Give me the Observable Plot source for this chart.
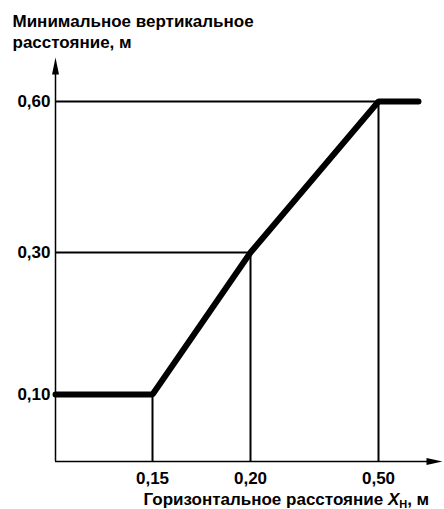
<!DOCTYPE html>
<html><head><meta charset="utf-8">
<script src="https://cdn.jsdelivr.net/npm/d3@7"></script>
<script src="https://cdn.jsdelivr.net/npm/@observablehq/plot@0.6"></script>
<style>body{margin:0;background:#fff} svg{display:block}</style>
</head><body><div id="chart"></div>
<script>
// Data
const xTicks = [0.15, 0.20, 0.50];
const yTicks = [0.10, 0.30, 0.60];
const curveX = [0, 0.15, 0.20, 0.50, 0.60];
const curveY = [0.10, 0.10, 0.30, 0.60, 0.60];
const yTitle = ["Минимальное вертикальное", "расстояние, м"];
const xTitleMain = "Горизонтальное расстояние ";
const xTitleVar = "X";
const xTitleSub = "Н";
const xTitleUnit = ", м";
const xMax = 0.66, yMax = 0.70;

const curve = curveX.map((x, i) => ({x, y: curveY[i]}));
const guides = xTicks.map((x, i) => ({x, y: yTicks[i]}));
const fmt = d => d.toFixed(2).replace(".", ",");
const font = "Liberation Sans, Arial, sans-serif";

const arrowUp = {draw(ctx) { ctx.moveTo(0, 0); ctx.lineTo(3.5, 17); ctx.lineTo(-3.5, 17); ctx.closePath(); }};
const arrowRight = {draw(ctx) { ctx.moveTo(0, 0); ctx.lineTo(-16, -3.5); ctx.lineTo(-16, 3.5); ctx.closePath(); }};

const chart = Plot.plot({
  width: 444, height: 509,
  marginTop: 0, marginRight: 0, marginBottom: 0, marginLeft: 0,
  style: {fontFamily: font, background: "#fff", color: "#000"},
  x: {type: "linear", domain: [0, 0.15, 0.20, 0.50, xMax], range: [55, 152, 250, 378, 442], axis: null},
  y: {type: "linear", domain: [0, 0.10, 0.30, 0.60, yMax], range: [461, 394, 252, 101, 57], axis: null},
  marks: [
    // axes
    Plot.ruleX([0], {y1: 0, y2: yMax - 0.02, stroke: "#000", strokeWidth: 1.5}),
    Plot.ruleY([0], {x1: 0, x2: xMax - 0.02, stroke: "#000", strokeWidth: 1.5}),
    Plot.dot([{x: 0, y: yMax}], {x: "x", y: "y", symbol: arrowUp, fill: "#000", stroke: null}),
    Plot.dot([{x: xMax, y: 0}], {x: "x", y: "y", symbol: arrowRight, fill: "#000", stroke: null}),
    // guide lines
    Plot.ruleY(guides, {y: "y", x1: 0, x2: "x", stroke: "#000", strokeWidth: 2}),
    Plot.ruleX(guides, {x: "x", y1: 0, y2: "y", stroke: "#000", strokeWidth: 2}),
    // curve
    Plot.line(curve, {x: "x", y: "y", stroke: "#000", strokeWidth: 6, strokeLinejoin: "miter"}),
    // tick labels
    Plot.text(yTicks, {x: 0, y: d => d, text: fmt, textAnchor: "end", dx: -5, fontSize: 17, fontWeight: "bold", fill: "#000"}),
    Plot.text(xTicks, {x: d => d, y: 0, text: fmt, dy: 17, fontSize: 17, fontWeight: "bold", fill: "#000"}),
    // titles
    Plot.text([yTitle.join("\n")], {frameAnchor: "top-left", textAnchor: "start", lineAnchor: "top", dx: 12, dy: 11, lineHeight: 1.25, fontSize: 17, fontWeight: "bold", fill: "#000"}),
    Plot.text([xTitleMain + xTitleVar + xTitleSub + xTitleUnit], {frameAnchor: "bottom-left", textAnchor: "start", lineAnchor: "bottom", dx: 143, dy: -5, fontSize: 17, fontWeight: "bold", fill: "#000"})
  ]
});

// add subscript styling to the x title
d3.select(chart).selectAll("text").filter(function() { return this.textContent.startsWith(xTitleMain); }).each(function() {
  const t = d3.select(this);
  t.text(null);
  t.append("tspan").text(xTitleMain);
  t.append("tspan").attr("font-style", "italic").text(xTitleVar);
  t.append("tspan").attr("font-size", 11).attr("dy", 3).text(xTitleSub);
  t.append("tspan").attr("dy", -3).text(xTitleUnit);
});

document.getElementById("chart").append(chart);
</script>
</body></html>
